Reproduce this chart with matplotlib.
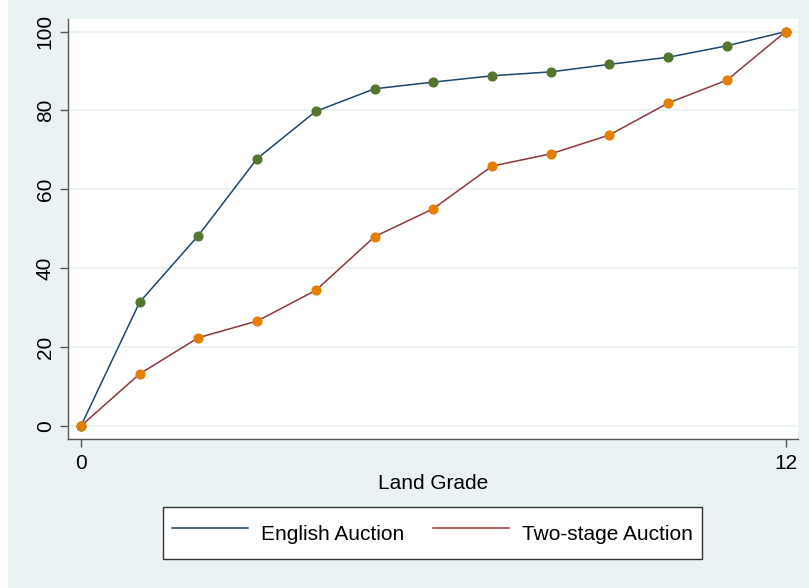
import matplotlib.pyplot as plt
from matplotlib.patches import Rectangle

plt.rcParams['font.family'] = ['Liberation Sans', 'DejaVu Sans']

# values
grades = [0, 1, 2, 3, 4, 5, 6, 7, 8, 9, 10, 11, 12]
english = [0, 31.4, 48.3, 67.8, 79.8, 85.5, 87.2, 88.8, 89.8, 91.7, 93.5, 96.4, 100]
two_stage = [0, 13.2, 22.4, 26.6, 34.4, 48.0, 55.1, 65.9, 69.0, 73.8, 81.9, 87.7, 100]
y_ticks = [0, 20, 40, 60, 80, 100]
x_ticks = [0, 12]

bg = '#eaf2f3'
fig = plt.figure(figsize=(8.09, 5.88), dpi=100, facecolor=bg)
fig.patches.append(Rectangle((0, 0), 8 / 809, 1, transform=fig.transFigure,
                             facecolor='white', edgecolor='none', zorder=0))

ax = fig.add_axes([68 / 809, 1 - 439 / 588, 730 / 809, 420 / 588])
ax.set_facecolor('white')

ax.plot(grades, english, color='#1a476f', lw=1.1, marker='o', ms=6.3,
        mfc='#55752f', mec='#55752f', label='English Auction', zorder=3)
ax.plot(grades, two_stage, color='#90353b', lw=1.1, marker='o', ms=6.3,
        mfc='#e37e00', mec='#e37e00', label='Two-stage Auction', zorder=4)

ax.set_xlim(-0.22, 12.21)
ax.set_ylim(-3.3, 103.2)
ax.set_yticks(y_ticks)
ax.set_xticks(x_ticks)
ax.grid(axis='y', color=bg, lw=1.5)
ax.set_axisbelow(True)

for s in ['top', 'right']:
    ax.spines[s].set_visible(False)
for s in ['left', 'bottom']:
    ax.spines[s].set_color('#555555')
    ax.spines[s].set_linewidth(1.0)

ax.tick_params(axis='both', labelsize=15, color='#555555', length=6, width=1.0)
ax.tick_params(axis='x', pad=4.5)
ax.tick_params(axis='y', pad=3.5)
plt.setp(ax.get_yticklabels(), rotation=90, va='center')
ax.set_xlabel('Land Grade', fontsize=15, labelpad=1)

fig.legend(loc='center', bbox_to_anchor=(432.5 / 809, 1 - 533 / 588), ncol=2,
           fontsize=15, handlelength=3.65, handleheight=2.1, handletextpad=0.62,
           columnspacing=1.35, borderpad=0.43, fancybox=False,
           edgecolor='#333333', framealpha=1, facecolor='white', markerscale=0)

fig.savefig('out.png', dpi=100, facecolor=bg)
